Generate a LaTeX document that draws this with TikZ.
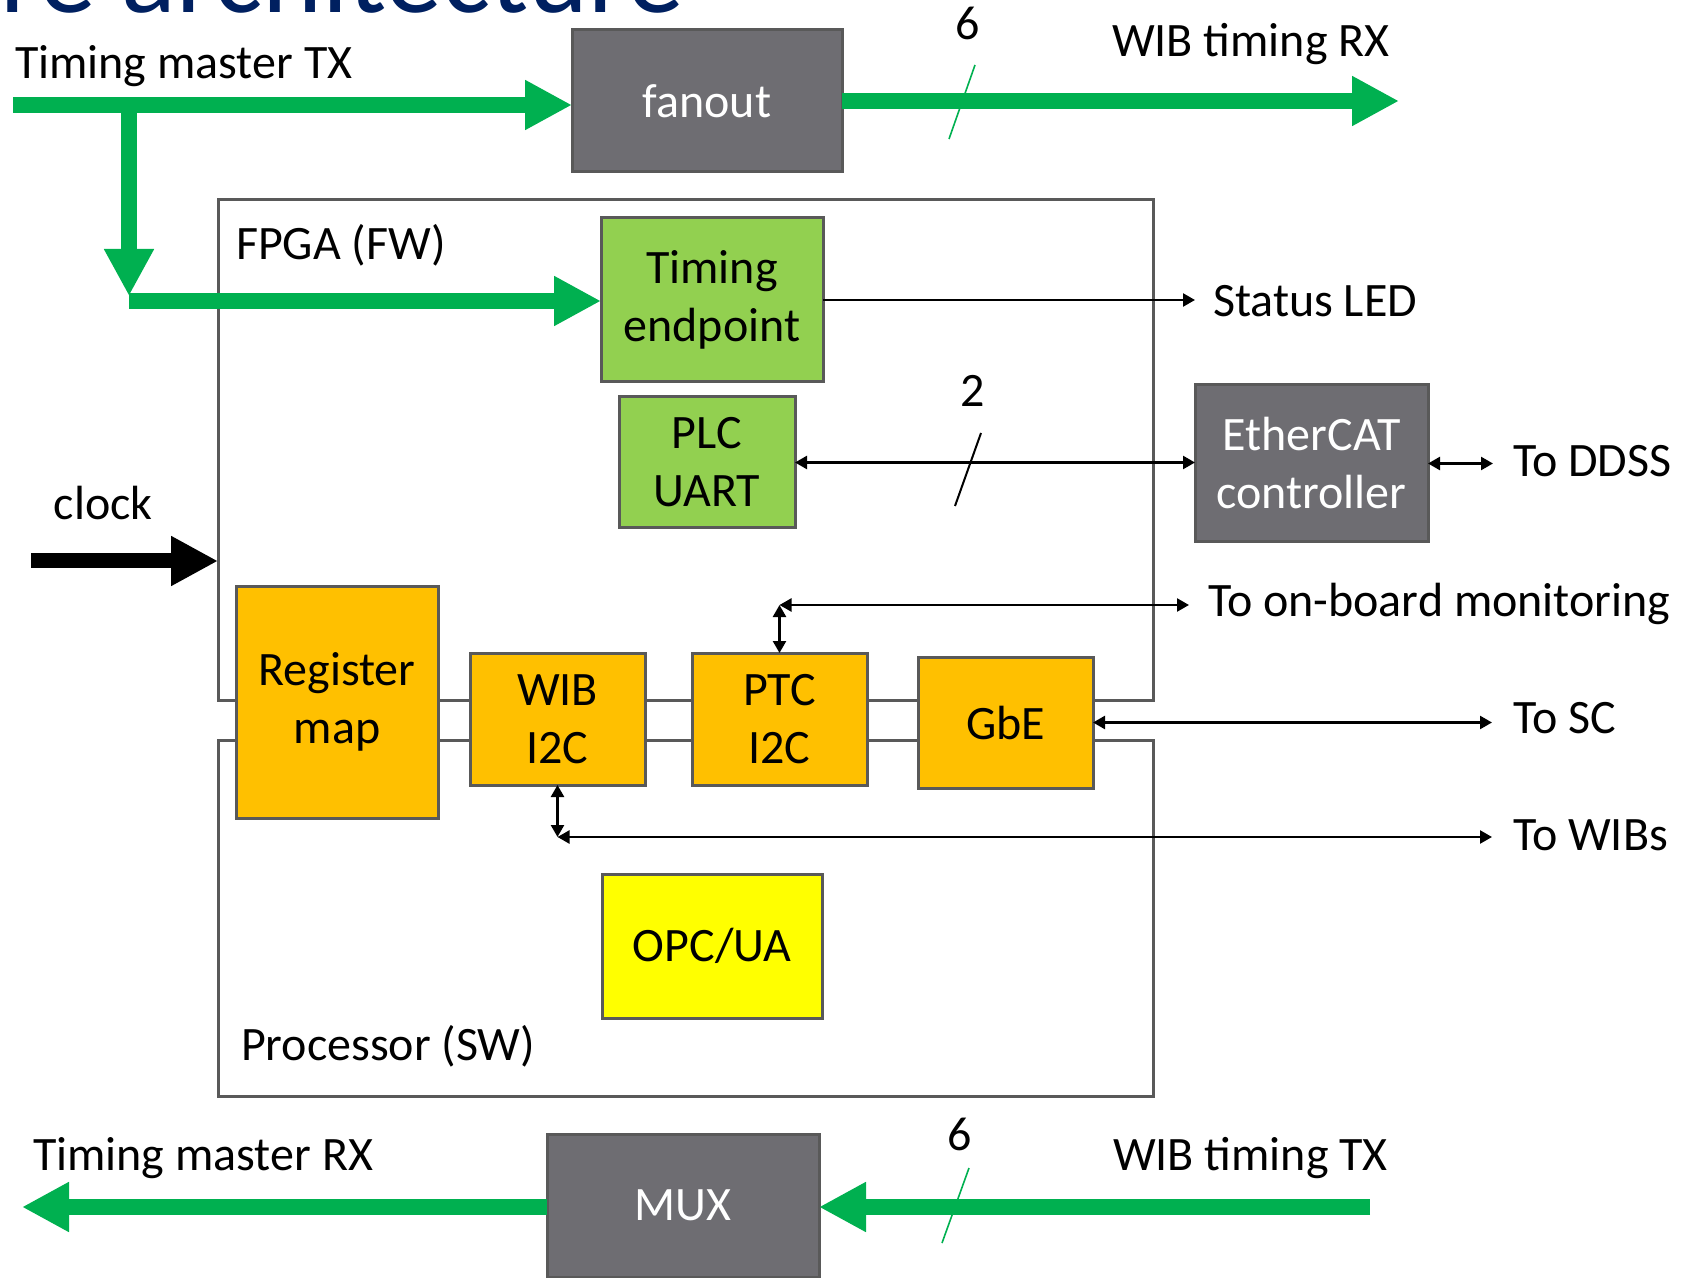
\documentclass[tikz,border=0pt]{standalone}
\usepackage{fontspec}
\setmainfont{Carlito}
\usetikzlibrary{arrows.meta}
\definecolor{tgreen}{HTML}{00B050}
\definecolor{lgreen}{HTML}{92D050}
\definecolor{orng}{HTML}{FFC000}
\definecolor{yel}{HTML}{FFFF00}
\definecolor{dgray}{HTML}{6E6D72}
\definecolor{bgray}{HTML}{595959}
\definecolor{navy}{HTML}{002060}
\tikzset{
  every node/.style={font=\fontsize{24pt}{29pt}\selectfont, inner sep=0pt, outer sep=0pt},
  blk/.style={draw=bgray, line width=1.5pt, align=center},
  dblk/.style={blk, fill=dgray, draw=black!65, text=white},
  frame/.style={draw=bgray, line width=1.5pt},
  gline/.style={draw=tgreen, line width=8pt, -{Triangle[length=23.5pt,width=23.5pt]}},
  kline/.style={draw=black, line width=1.2pt},
  gslash/.style={draw=tgreen, line width=0.8pt},
  kslash/.style={draw=black, line width=1pt},
  lbl/.style={anchor=base west},
  num/.style={anchor=base},
  >={Triangle[length=6pt,width=6.5pt]}
}
\begin{document}
\begin{tikzpicture}[x=0.5pt,y=-0.5pt]
\useasboundingbox (0,0) rectangle (1682,1278);

% cut-off title
\begin{scope}
\clip (0,0) rectangle (1682,1278);
\node[anchor=base west, text=navy, font=\fontsize{57pt}{62pt}\selectfont] (title) at (1,13) {re architecture};
\end{scope}

% frames
\node[frame, minimum width=467.5pt, minimum height=250pt] (fpga) at (685.5,450) {};
\node[frame, minimum width=467.5pt, minimum height=178pt] (proc) at (685.5,918) {};

% free ends
\coordinate (txs) at (13,105);
\coordinate (rxe) at (1399,101);
\coordinate (brs) at (129,105);
\coordinate (brt) at (129,296);
\coordinate (brh) at (129,301);
\coordinate (lede) at (1195,300);
\coordinate (ddsse) at (1493,463.5);
\coordinate (ptcc) at (779.5,605);
\coordinate (obme) at (1189,605);
\coordinate (sce) at (1492,722.5);
\coordinate (wibc) at (557.5,837);
\coordinate (wibse) at (1492,837);
\coordinate (clks) at (31,561);
\coordinate (wtxs) at (1370,1207);
\coordinate (tmrxe) at (22,1207);
\coordinate (s1a) at (949,139);
\coordinate (s1b) at (975,65);
\coordinate (s2a) at (955,506);
\coordinate (s2b) at (981,433);
\coordinate (s3a) at (942,1243);
\coordinate (s3b) at (969,1168);

% blocks
\node[dblk, minimum width=135pt, minimum height=71pt] (fanout) at (707,101) {fanout};
\node[blk, fill=lgreen, minimum width=111pt, minimum height=82pt] (te) at (712,300) {Timing\\endpoint};
\node[blk, fill=lgreen, minimum width=88pt, minimum height=65.5pt] (plc) at (707,462.5) {PLC\\UART};
\node[dblk, minimum width=116.5pt, minimum height=78.5pt] (ec) at (1311.5,463.5) {EtherCAT\\controller};
\node[blk, fill=orng, minimum width=101pt, minimum height=116pt] (reg) at (337,702) {Register\\map};
\node[blk, fill=orng, minimum width=87.5pt, minimum height=66pt] (wib) at (557.5,719) {WIB\\I2C};
\node[blk, fill=orng, minimum width=87.5pt, minimum height=66pt] (ptc) at (779.5,719) {PTC\\I2C};
\node[blk, fill=orng, minimum width=87.5pt, minimum height=65.5pt] (gbe) at (1005.5,722.5) {GbE};
\node[blk, fill=yel, minimum width=110pt, minimum height=72pt] (opc) at (712,946) {OPC/UA};
\node[dblk, minimum width=136pt, minimum height=71.5pt] (mux) at (683,1205.5) {MUX};

% green timing arrows
\draw[gline] (txs) -- (fanout.west |- txs);
\draw[gline] (fanout.east |- rxe) -- (rxe);
\draw[gline] (brs) -- (brt);
\draw[gline] (brh) -- (te.west |- brh);
\draw[gline] (wtxs) -- (mux.east |- wtxs);
\draw[gline] (mux.west |- tmrxe) -- (tmrxe);
\draw[gslash] (s1a) -- (s1b);
\draw[gslash] (s3a) -- (s3b);

% clock
\draw[draw=black, line width=7.5pt, -{Triangle[length=23.5pt,width=23.5pt]}] (clks) -- (fpga.west |- clks);

% black connectors
\draw[kline, ->] (te.east) -- (lede);
\draw[kline, <->] (plc.east) -- (ec.west |- plc.east);
\draw[kslash] (s2a) -- (s2b);
\draw[kline, <->] (ec.east) -- (ddsse);
\draw[kline, <->] (ptcc) -- (ptc.north);
\draw[kline, <->] (ptcc) -- (obme);
\draw[kline, <->] (gbe.east) -- (sce);
\draw[kline, <->] (wib.south) -- (wibc);
\draw[kline, <->] (wibc) -- (wibse);

% labels
\node[lbl] (tmtx) at (15,79) {Timing master TX};
\node[lbl] (wibrx) at (1112,57) {WIB timing RX};
\node[num] (n6a) at (968,40) {6};
\node[lbl] (fpgalbl) at (236,260) {FPGA (FW)};
\node[lbl] (led) at (1213,317) {Status LED};
\node[num] (n2) at (973,407) {2};
\node[lbl] (ddss) at (1513,477) {To DDSS};
\node[lbl] (obm) at (1208,617) {To on-board monitoring};
\node[lbl] (sc) at (1513,733) {To SC};
\node[lbl] (wibs) at (1513,850) {To WIBs};
\node[lbl] (clk) at (54,520) {clock};
\node[lbl] (proclbl) at (241,1060) {Processor (SW)};
\node[lbl] (tmrx) at (33,1170) {Timing master RX};
\node[lbl] (wibtx) at (1113,1170) {WIB timing TX};
\node[num] (n6b) at (960,1150) {6};
\end{tikzpicture}
\end{document}
